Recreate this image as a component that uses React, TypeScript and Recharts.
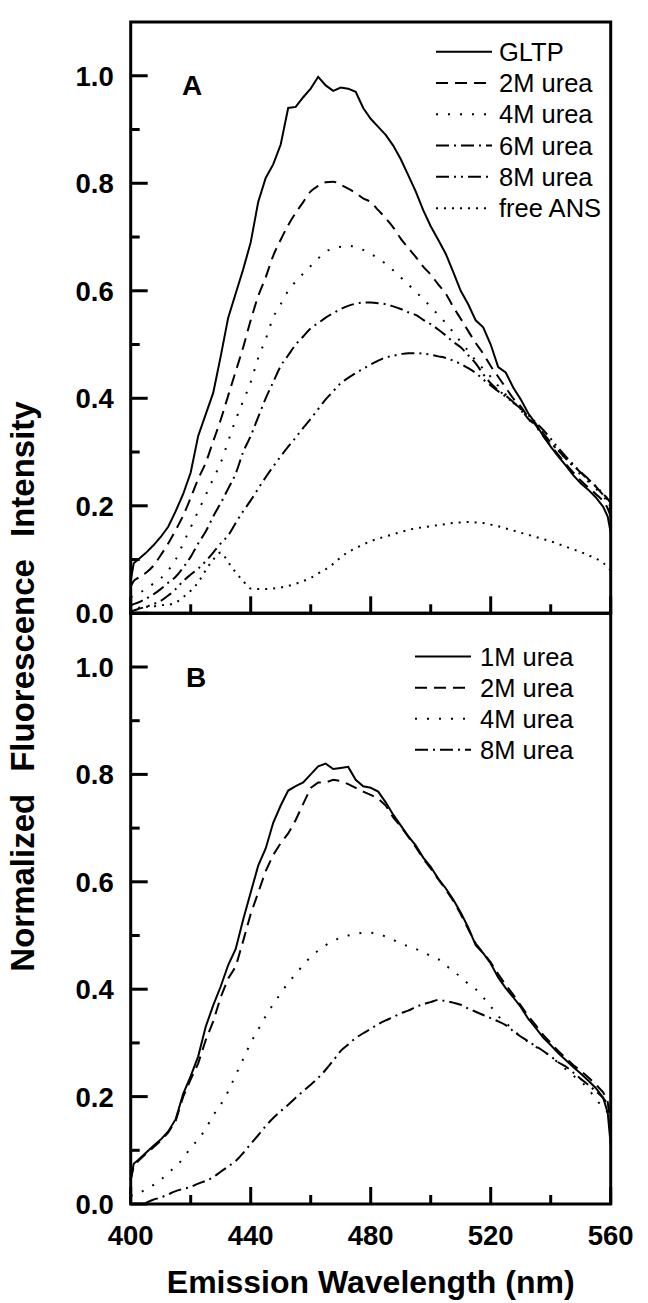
import { LineChart, Line, XAxis, YAxis, ReferenceArea, Legend } from "recharts";

const FONT = '"Liberation Sans", Arial, Helvetica, sans-serif';

// emission wavelength grid (nm), shared by both panels
const wavelength = [
  400, 401, 402.5, 405, 407.5, 410, 412.5, 415, 417.5, 420,
  422.5, 425, 427.5, 430, 432.5, 435, 437.5, 440, 442.5, 445,
  447.5, 450, 452.5, 455, 457.5, 460, 462.5, 465, 467.5, 470,
  472.5, 475, 477.5, 480, 482.5, 485, 487.5, 490, 492.5, 495,
  497.5, 500, 502.5, 505, 507.5, 510, 512.5, 515, 517.5, 520,
  522.5, 525, 527.5, 530, 532.5, 535, 537.5, 540, 542.5, 545,
  547.5, 550, 552.5, 555, 557.5, 559, 560,
];

// panel A
const gltpA = [
  0.06, 0.093, 0.1, 0.112, 0.126, 0.142, 0.161, 0.19, 0.222, 0.262,
  0.33, 0.37, 0.41, 0.478, 0.55, 0.595, 0.64, 0.69, 0.765, 0.81,
  0.835, 0.872, 0.94, 0.942, 0.96, 0.976, 0.998, 0.982, 0.972, 0.978,
  0.976, 0.97, 0.94, 0.92, 0.905, 0.89, 0.87, 0.845, 0.815, 0.785,
  0.75, 0.72, 0.695, 0.669, 0.635, 0.6, 0.575, 0.545, 0.532, 0.5,
  0.458, 0.448, 0.42, 0.398, 0.372, 0.353, 0.33, 0.31, 0.292, 0.275,
  0.257, 0.242, 0.23, 0.216, 0.198, 0.18, 0.15,
];
const urea2A = [
  0.05, 0.06, 0.066, 0.075, 0.088, 0.108, 0.13, 0.155, 0.182, 0.215,
  0.25, 0.28, 0.32, 0.36, 0.405, 0.45, 0.495, 0.545, 0.59, 0.625,
  0.665, 0.695, 0.722, 0.745, 0.765, 0.785, 0.795, 0.802, 0.803, 0.797,
  0.79, 0.782, 0.772, 0.765, 0.75, 0.735, 0.718, 0.697, 0.68, 0.663,
  0.645, 0.63, 0.612, 0.595, 0.57, 0.548, 0.525, 0.503, 0.483, 0.46,
  0.44, 0.42, 0.4, 0.385, 0.365, 0.35, 0.33, 0.312, 0.295, 0.278,
  0.262, 0.247, 0.234, 0.222, 0.208, 0.195, 0.18,
];
const urea4A = [
  0.03, 0.033, 0.037, 0.045, 0.055, 0.065, 0.08, 0.1, 0.13, 0.16,
  0.19, 0.22, 0.25, 0.28, 0.32, 0.36, 0.395, 0.43, 0.475, 0.51,
  0.55, 0.575, 0.6, 0.617, 0.632, 0.646, 0.66, 0.673, 0.678, 0.682,
  0.684, 0.681, 0.676, 0.669, 0.66, 0.65, 0.638, 0.625, 0.612, 0.598,
  0.585, 0.57, 0.555, 0.54, 0.523, 0.505, 0.488, 0.47, 0.455, 0.44,
  0.423, 0.407, 0.392, 0.378, 0.362, 0.347, 0.332, 0.318, 0.302, 0.288,
  0.273, 0.258, 0.245, 0.232, 0.218, 0.205, 0.19,
];
const urea6A = [
  0.015, 0.017, 0.02, 0.027, 0.035, 0.045, 0.057, 0.068, 0.085, 0.105,
  0.13, 0.152, 0.18, 0.205, 0.232, 0.26, 0.3, 0.33, 0.365, 0.4,
  0.43, 0.46, 0.48, 0.5, 0.515, 0.53, 0.54, 0.55, 0.558, 0.566,
  0.572, 0.576, 0.578, 0.578, 0.577, 0.575, 0.571, 0.566, 0.56, 0.555,
  0.546, 0.538, 0.528, 0.517, 0.505, 0.495, 0.48, 0.465, 0.445, 0.428,
  0.415, 0.405, 0.393, 0.38, 0.362, 0.35, 0.335, 0.318, 0.303, 0.288,
  0.275, 0.262, 0.248, 0.236, 0.22, 0.21, 0.195,
];
const urea8A = [
  0.003, 0.005, 0.008, 0.012, 0.017, 0.023, 0.033, 0.045, 0.06, 0.072,
  0.083, 0.097, 0.113, 0.13, 0.145, 0.168, 0.19, 0.21, 0.232, 0.253,
  0.273, 0.292, 0.31, 0.327, 0.345, 0.362, 0.38, 0.398, 0.413, 0.428,
  0.438, 0.447, 0.455, 0.463, 0.47, 0.476, 0.479, 0.482, 0.484, 0.484,
  0.483, 0.481, 0.478, 0.475, 0.47, 0.464, 0.456, 0.447, 0.435, 0.424,
  0.413, 0.403, 0.392, 0.381, 0.369, 0.355, 0.341, 0.325, 0.308, 0.292,
  0.277, 0.263, 0.25, 0.237, 0.222, 0.213, 0.205,
];
const freeAnsA = [
  0.005, 0.008, 0.01, 0.012, 0.013, 0.015, 0.016, 0.02, 0.03, 0.042,
  0.058, 0.08, 0.1, 0.113, 0.095, 0.076, 0.06, 0.046, 0.045, 0.045,
  0.046, 0.048, 0.051, 0.055, 0.06, 0.066, 0.074, 0.082, 0.092, 0.104,
  0.114, 0.121, 0.128, 0.134, 0.139, 0.143, 0.147, 0.151, 0.155, 0.158,
  0.16, 0.162, 0.164, 0.166, 0.168, 0.169, 0.17, 0.169, 0.168, 0.165,
  0.162, 0.158, 0.154, 0.15, 0.146, 0.142, 0.138, 0.134, 0.129, 0.124,
  0.119, 0.114, 0.108, 0.102, 0.094, 0.085, 0.08,
];

// panel B
const urea1B = [
  0.045, 0.075, 0.082, 0.095, 0.108, 0.12, 0.135, 0.158, 0.205, 0.238,
  0.275, 0.33, 0.37, 0.405, 0.445, 0.475, 0.53, 0.58, 0.63, 0.662,
  0.71, 0.742, 0.77, 0.778, 0.785, 0.8, 0.815, 0.82, 0.81, 0.812,
  0.814, 0.79, 0.778, 0.775, 0.768, 0.748, 0.725, 0.705, 0.685, 0.668,
  0.645, 0.628, 0.606, 0.588, 0.567, 0.543, 0.515, 0.482, 0.467, 0.448,
  0.422, 0.402, 0.385, 0.367, 0.345, 0.328, 0.31, 0.296, 0.281, 0.268,
  0.255, 0.243, 0.23, 0.216, 0.198, 0.17, 0.11,
];
const urea2B = [
  0.045, 0.07, 0.08, 0.093, 0.105, 0.118, 0.133, 0.155, 0.2, 0.232,
  0.262, 0.305, 0.34, 0.385, 0.42, 0.442, 0.49, 0.54, 0.58, 0.62,
  0.65, 0.672, 0.69, 0.715, 0.745, 0.775, 0.785, 0.785, 0.79, 0.788,
  0.782, 0.775, 0.768, 0.762, 0.755, 0.742, 0.72, 0.703, 0.684, 0.665,
  0.643, 0.625, 0.605, 0.586, 0.565, 0.54, 0.512, 0.485, 0.468, 0.45,
  0.428, 0.408, 0.39, 0.37, 0.35, 0.333, 0.315, 0.3, 0.285, 0.272,
  0.259, 0.248, 0.236, 0.223, 0.208, 0.19, 0.15,
];
const urea4B = [
  0.015, 0.017, 0.02, 0.027, 0.035, 0.045, 0.058, 0.07, 0.085, 0.105,
  0.12, 0.14, 0.165, 0.185, 0.21, 0.24, 0.27, 0.3, 0.325, 0.35,
  0.372, 0.392, 0.412, 0.428, 0.445, 0.46, 0.472, 0.482, 0.49, 0.496,
  0.5, 0.503, 0.505, 0.505, 0.503, 0.498, 0.492, 0.485, 0.48, 0.475,
  0.469, 0.462, 0.456, 0.445, 0.433, 0.423, 0.41, 0.4, 0.385, 0.368,
  0.35, 0.338, 0.324, 0.312, 0.302, 0.293, 0.284, 0.275, 0.263, 0.251,
  0.239, 0.228, 0.215, 0.195, 0.18, 0.17, 0.16,
];
const urea8B = [
  null, null, null, 0.002, 0.008, 0.012, 0.018, 0.024, 0.028, 0.032,
  0.038, 0.043, 0.05, 0.06, 0.07, 0.08, 0.095, 0.112, 0.128, 0.145,
  0.16, 0.173, 0.185, 0.198, 0.21, 0.222, 0.235, 0.25, 0.267, 0.285,
  0.297, 0.309, 0.318, 0.326, 0.335, 0.342, 0.348, 0.355, 0.36, 0.367,
  0.372, 0.376, 0.38, 0.378, 0.375, 0.371, 0.364, 0.358, 0.352, 0.346,
  0.34, 0.333, 0.322, 0.312, 0.303, 0.294, 0.285, 0.275, 0.264, 0.256,
  0.245, 0.233, 0.222, 0.21, 0.197, 0.185, 0.17,
];

const xTicks = [400, 420, 440, 460, 480, 500, 520, 540, 560];
const yTicks = [0, 0.1, 0.2, 0.3, 0.4, 0.5, 0.6, 0.7, 0.8, 0.9, 1.0];

type Series = {
  key: string;
  name: string;
  values: (number | null)[];
  dash?: string;
  curve: "linear" | "monotone";
};

const seriesA: Series[] = [
  { key: "gltp", name: "GLTP", values: gltpA, curve: "linear" },
  { key: "u2", name: "2M urea", values: urea2A, dash: "12 7", curve: "monotone" },
  { key: "u4", name: "4M urea", values: urea4A, dash: "2 10", curve: "monotone" },
  { key: "u6", name: "6M urea", values: urea6A, dash: "13 5 2 5", curve: "monotone" },
  { key: "u8", name: "8M urea", values: urea8A, dash: "13 5 2 5 2 5", curve: "monotone" },
  { key: "ans", name: "free ANS", values: freeAnsA, dash: "2 6", curve: "monotone" },
];

const seriesB: Series[] = [
  { key: "u1", name: "1M urea", values: urea1B, curve: "linear" },
  { key: "u2", name: "2M urea", values: urea2B, dash: "12 7", curve: "linear" },
  { key: "u4", name: "4M urea", values: urea4B, dash: "2 10", curve: "monotone" },
  { key: "u8", name: "8M urea", values: urea8B, dash: "13 5 2 5", curve: "monotone" },
];

function toRows(series: Series[]) {
  return wavelength.map((wl, i) => {
    const row: Record<string, number | null> = { wl };
    series.forEach((s) => (row[s.key] = s.values[i]));
    return row;
  });
}

function YTick({ x, y, payload }: any) {
  const major = Math.round(payload.value * 10) % 2 === 0;
  return (
    <g>
      <line x1={x} x2={x + (major ? 17 : 9)} y1={y} y2={y} stroke="#000" strokeWidth={3} />
      {major && (
        <text x={x - 17} y={y + 10} textAnchor="end" fontFamily={FONT} fontWeight="bold" fontSize={27.5} fill="#000">
          {payload.value.toFixed(1)}
        </text>
      )}
    </g>
  );
}

function XTick({ x, y, payload, showLabel }: any) {
  const major = payload.value % 40 === 0;
  return (
    <g>
      <line x1={x} x2={x} y1={y} y2={y - (major ? 17 : 9)} stroke="#000" strokeWidth={3} />
      {showLabel && major && (
        <text x={x} y={y + 41} textAnchor="middle" fontFamily={FONT} fontWeight="bold" fontSize={27.5} fill="#000">
          {payload.value}
        </text>
      )}
    </g>
  );
}

function SeriesKey({ series, gap, textX }: { series: Series[]; gap: number; textX: number }) {
  return (
    <svg width={200} height={series.length * gap + 4} style={{ display: "block" }}>
      {series.map((s, i) => {
        const cy = gap / 2 + i * gap;
        return (
          <g key={s.key}>
            <line x1={0} x2={56} y1={cy} y2={cy} stroke="#000" strokeWidth={2} strokeDasharray={s.dash} />
            <text x={textX} y={cy + 9} fontFamily={FONT} fontSize={25.5} fill="#000">
              {s.name}
            </text>
          </g>
        );
      })}
    </svg>
  );
}

type PanelProps = {
  series: Series[];
  top: number;
  height: number;
  marginTop: number;
  marginBottom: number;
  xAxisHeight: number;
  showLabels: boolean;
  legendLeft: number;
  legendTop: number;
  legendGap: number;
  legendTextX: number;
};

function Panel(p: PanelProps) {
  const rows = toRows(p.series);
  return (
    <div style={{ position: "absolute", left: 0, top: p.top }}>
      <LineChart
        width={648}
        height={p.height}
        data={rows}
        margin={{ top: p.marginTop, right: 37.3, bottom: p.marginBottom, left: 0 }}
      >
        <XAxis
          dataKey="wl"
          type="number"
          domain={[400, 560]}
          ticks={xTicks}
          interval={0}
          axisLine={false}
          tickLine={false}
          tickSize={0}
          tickMargin={0}
          height={p.xAxisHeight}
          tick={(props: any) => <XTick {...props} showLabel={p.showLabels} />}
          label={
            p.showLabels
              ? {
                  value: "Emission Wavelength (nm)",
                  position: "insideBottom",
                  offset: 1,
                  fontFamily: FONT,
                  fontWeight: "bold",
                  fontSize: 32,
                  fill: "#000",
                }
              : undefined
          }
        />
        <YAxis
          type="number"
          domain={[0, 1.1]}
          ticks={yTicks}
          interval={0}
          width={130.7}
          axisLine={false}
          tickLine={false}
          tickSize={0}
          tickMargin={0}
          tick={(props: any) => <YTick {...props} />}
        />
        <ReferenceArea x1={400} x2={560} y1={0} y2={1.1} fill="none" stroke="#000" strokeWidth={3} />
        {p.series.map((s) => (
          <Line
            key={s.key}
            dataKey={s.key}
            name={s.name}
            type={s.curve}
            stroke="#000"
            strokeWidth={2}
            strokeDasharray={s.dash}
            dot={false}
            activeDot={false}
            isAnimationActive={false}
          />
        ))}
        <Legend
          layout="horizontal"
          verticalAlign="middle"
          align="center"
          wrapperStyle={{ left: p.legendLeft, top: p.legendTop, width: "auto", height: "auto" }}
          content={() => <SeriesKey series={p.series} gap={p.legendGap} textX={p.legendTextX} />}
        />
      </LineChart>
    </div>
  );
}

export default function App() {
  return (
    <div style={{ position: "absolute", left: 0, top: 0, width: 648, height: 1303, background: "#fff" }}>
      <Panel
        series={seriesA}
        top={0}
        height={640}
        marginTop={22}
        marginBottom={6.7}
        xAxisHeight={20}
        showLabels={false}
        legendLeft={436}
        legendTop={36.4}
        legendGap={31.3}
        legendTextX={63}
      />
      <Panel
        series={seriesB}
        top={560}
        height={743}
        marginTop={53.3}
        marginBottom={9}
        xAxisHeight={90}
        showLabels={true}
        legendLeft={415}
        legendTop={81.1}
        legendGap={31.1}
        legendTextX={65}
      />
      <svg width={648} height={1303} style={{ position: "absolute", left: 0, top: 0, pointerEvents: "none" }}>
        <text x={182} y={95} fontFamily={FONT} fontWeight="bold" fontSize={28} fill="#000">A</text>
        <text x={186} y={686.7} fontFamily={FONT} fontWeight="bold" fontSize={28} fill="#000">B</text>
        <text
          transform="translate(33.5, 686.5) rotate(-90)"
          textAnchor="middle"
          fontFamily={FONT}
          fontWeight="bold"
          fontSize={33}
          fill="#000"
        >
          <tspan>Normalized</tspan>
          <tspan dx={22}>Fluorescence</tspan>
          <tspan dx={22}>Intensity</tspan>
        </text>
      </svg>
    </div>
  );
}
